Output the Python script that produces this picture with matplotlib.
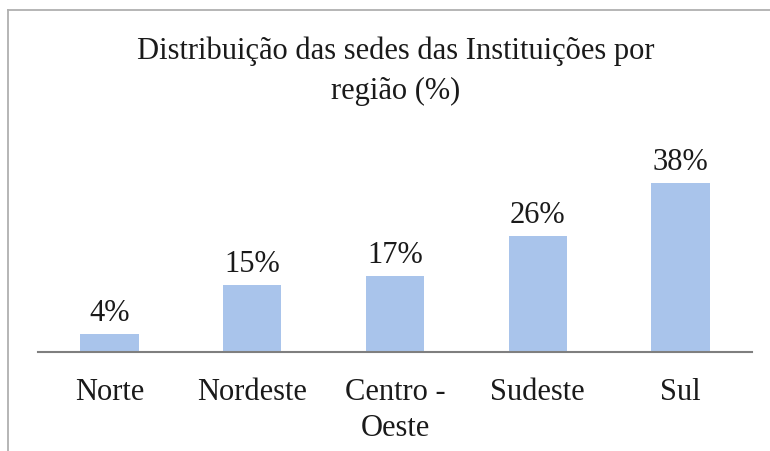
import matplotlib
matplotlib.use("Agg")
import matplotlib.pyplot as plt
from matplotlib.lines import Line2D

# Regions and share of institution headquarters (%)
regions = ["Norte", "Nordeste", "Centro -\nOeste", "Sudeste", "Sul"]
shares = [4, 15, 17, 26, 38]
labels = ["4%", "15%", "17%", "26%", "38%"]

plt.rcParams["font.family"] = ["Liberation Serif", "DejaVu Serif"]

fig = plt.figure(figsize=(7.7, 4.52), dpi=100)
W, H = 770, 452
ax = fig.add_axes([38 / W, (H - 353) / H, (752 - 38) / W, (353 - 175) / H])

x = range(len(regions))
bars = ax.bar(x, shares, width=0.41, color="#A9C4EB", zorder=2)
ax.bar_label(bars, labels=labels, padding=5, fontsize=22, color="#1a1a1a")

ax.set_xlim(-0.5, len(regions) - 0.5)
ax.set_ylim(0, 40)
ax.set_xticks(list(x))
ax.set_xticklabels(regions, fontsize=22, color="#1a1a1a", linespacing=1.3)
ax.tick_params(axis="x", length=0, pad=18)
ax.set_yticks([])

for side in ("top", "right", "left"):
    ax.spines[side].set_visible(False)
ax.spines["bottom"].set_color("#7f7f7f")
ax.spines["bottom"].set_linewidth(1.5)

fig.text(396 / W, 1 - 37 / H,
         "Distribuição das sedes das Instituições por\nregião (%)",
         ha="center", va="top", fontsize=22, color="#1a1a1a",
         linespacing=1.45)

# chart frame (only top and left edges are visible in the crop)
fig.add_artist(Line2D([8 / W, 8 / W], [0, 1 - 11 / H], transform=fig.transFigure,
                      color="#b0b0b0", linewidth=1.3))
fig.add_artist(Line2D([8 / W, 1], [1 - 11 / H, 1 - 11 / H], transform=fig.transFigure,
                      color="#b0b0b0", linewidth=1.3))

fig.savefig("out.png", dpi=100)
